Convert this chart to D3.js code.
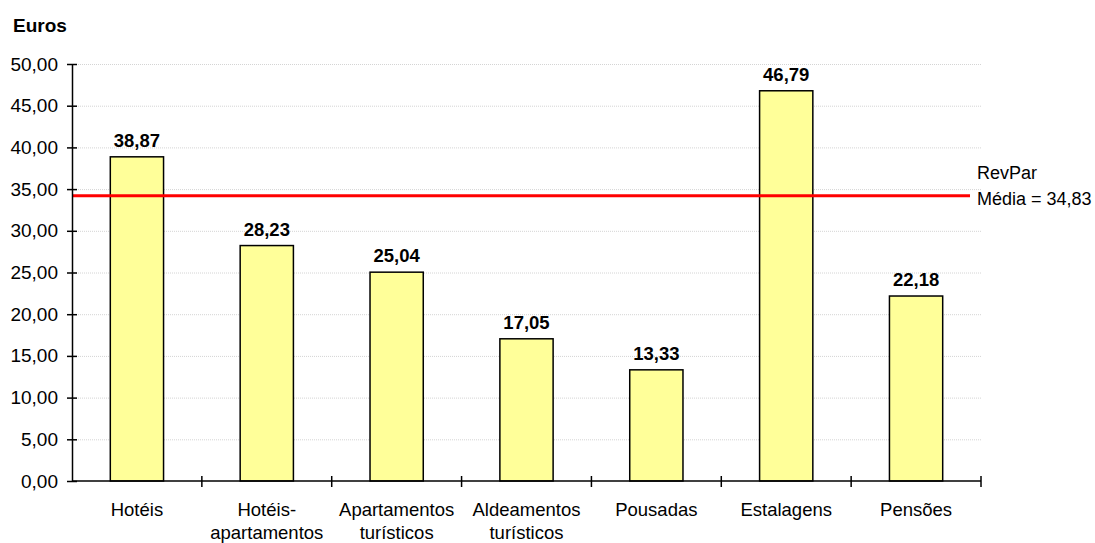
<!DOCTYPE html>
<html>
<head>
<meta charset="utf-8">
<script src="https://cdn.jsdelivr.net/npm/d3@7"></script>
<style>
  body { margin: 0; background: #fff; }
  text { font-family: "Liberation Sans", Arial, sans-serif; fill: #000; }
  .grid line { stroke: #d4d4d4; stroke-dasharray: 1,1; }
  .grid .domain { display: none; }
</style>
</head>
<body>
<svg id="chart"></svg>
<script>
// data
const categories = ['Hotéis', 'Hotéis-|apartamentos', 'Apartamentos|turísticos', 'Aldeamentos|turísticos', 'Pousadas', 'Estalagens', 'Pensões'];
const revpar = [38.87, 28.23, 25.04, 17.05, 13.33, 46.79, 22.18];
const yTicks = [0, 5, 10, 15, 20, 25, 30, 35, 40, 45, 50];
const averageLine = 34.2;           // where the red line sits in the picture
const averageLabel = ['RevPar', 'Média = 34,83'];

class RevparChart {

  constructor(_config) {
    this.config = {
      parentElement: _config.parentElement,
      containerWidth: _config.containerWidth || 1095,
      containerHeight: _config.containerHeight || 543,
      margin: _config.margin || {top: 64, right: 114, bottom: 62, left: 72}
    };
    this.initVis();
  }

  initVis() {
    let vis = this;

    vis.width = vis.config.containerWidth - vis.config.margin.left - vis.config.margin.right;
    vis.height = vis.config.containerHeight - vis.config.margin.top - vis.config.margin.bottom;

    vis.xScale = d3.scaleBand()
        .domain(categories)
        .range([0, vis.width])
        .paddingInner(0.59)
        .paddingOuter(0.295);

    vis.yScale = d3.scaleLinear()
        .domain([0, 50])
        .range([vis.height, 0]);

    vis.svg = d3.select(vis.config.parentElement)
        .attr('width', vis.config.containerWidth)
        .attr('height', vis.config.containerHeight);

    vis.chart = vis.svg.append('g')
        .attr('transform', `translate(${vis.config.margin.left},${vis.config.margin.top})`);

    // axis title
    vis.svg.append('text')
        .attr('x', 13)
        .attr('y', 32)
        .attr('font-size', 19)
        .attr('font-weight', 'bold')
        .text('Euros');

    vis.renderVis();
  }

  renderVis() {
    let vis = this;
    const step = vis.xScale.step();

    // gridlines
    vis.chart.append('g')
        .attr('class', 'grid')
        .call(d3.axisLeft(vis.yScale)
          .tickValues(yTicks.filter(d => d > 0))
          .tickSize(-vis.width)
          .tickFormat(''));

    // bars
    vis.chart.selectAll('.bar')
        .data(revpar)
      .join('rect')
        .attr('class', 'bar')
        .attr('x', (d, i) => vis.xScale(categories[i]))
        .attr('width', vis.xScale.bandwidth())
        .attr('y', d => vis.yScale(d))
        .attr('height', d => vis.height - vis.yScale(d))
        .attr('fill', '#ffff99')
        .attr('stroke', '#000')
        .attr('stroke-width', 1.5);

    // value labels
    vis.chart.selectAll('.value')
        .data(revpar)
      .join('text')
        .attr('class', 'value')
        .attr('x', (d, i) => vis.xScale(categories[i]) + vis.xScale.bandwidth() / 2)
        .attr('y', d => vis.yScale(d) - 10)
        .attr('text-anchor', 'middle')
        .attr('font-size', 18.5)
        .attr('font-weight', 'bold')
        .text(d => d.toFixed(2).replace('.', ','));

    // average line
    vis.chart.append('line')
        .attr('x1', 0)
        .attr('x2', vis.width - 11)
        .attr('y1', vis.yScale(averageLine))
        .attr('y2', vis.yScale(averageLine))
        .attr('stroke', '#ff0000')
        .attr('stroke-width', 3);

    vis.chart.append('text')
        .attr('x', vis.width - 4)
        .attr('y', vis.yScale(averageLine) - 17)
        .attr('font-size', 18)
        .selectAll('tspan')
        .data(averageLabel)
      .join('tspan')
        .attr('x', vis.width - 4)
        .attr('dy', (d, i) => i ? 26 : 0)
        .text(d => d);

    // y axis
    const yAxisG = vis.chart.append('g')
        .call(d3.axisLeft(vis.yScale)
          .tickValues(yTicks)
          .tickSizeInner(5)
          .tickSizeOuter(0)
          .tickPadding(9)
          .tickFormat(d => d.toFixed(2).replace('.', ',')));
    yAxisG.selectAll('.tick line').attr('x2', 5).attr('x1', -5);
    yAxisG.selectAll('path, line').attr('stroke', '#000').attr('stroke-width', 1.5);
    yAxisG.selectAll('text')
        .attr('font-size', 19)
        .attr('font-family', '"Liberation Sans", Arial, sans-serif')
        .attr('fill', '#000');

    // x axis: line and ticks between categories
    const xAxisG = vis.chart.append('g')
        .attr('transform', `translate(0,${vis.height})`);
    xAxisG.append('line')
        .attr('x1', 0).attr('x2', vis.width)
        .attr('stroke', '#000').attr('stroke-width', 1.5);
    const boundaries = categories.map(c => vis.xScale(c) + vis.xScale.bandwidth() + (step - vis.xScale.bandwidth()) / 2);
    xAxisG.selectAll('.xtick')
        .data(boundaries)
      .join('line')
        .attr('class', 'xtick')
        .attr('x1', d => d).attr('x2', d => d)
        .attr('y1', -5).attr('y2', 6)
        .attr('stroke', '#000').attr('stroke-width', 1.5);

    xAxisG.selectAll('.xlabel')
        .data(categories)
      .join('text')
        .attr('class', 'xlabel')
        .attr('text-anchor', 'middle')
        .attr('font-size', 18.5)
        .attr('y', 35)
        .each(function(c) {
          const cx = vis.xScale(c) + vis.xScale.bandwidth() / 2;
          d3.select(this).selectAll('tspan')
              .data(c.split('|'))
            .join('tspan')
              .attr('x', cx)
              .attr('dy', (d, i) => i ? 23 : 0)
              .text(d => d);
        });
  }
}

new RevparChart({parentElement: '#chart'});
</script>
</body>
</html>
